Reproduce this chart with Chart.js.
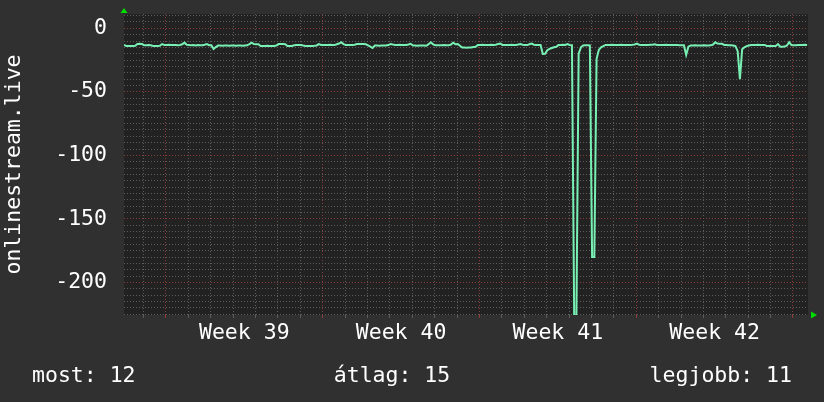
<!DOCTYPE html>
<html><head><meta charset="utf-8">
<script src="https://cdn.jsdelivr.net/npm/chart.js@4"></script>
<style>
html,body{margin:0;padding:0;background:#303030;}
#wrap{position:relative;width:824px;height:402px;overflow:hidden;}
.stat{position:absolute;top:362px;font-family:"DejaVu Sans Mono",monospace;font-size:21.5px;color:#fff;line-height:26px;white-space:pre;}
</style></head><body>
<div id="wrap"><canvas id="c" width="824" height="402"></canvas>
<div class="stat" id="s0" style="left:32px"></div>
<div class="stat" id="s1" style="left:0;width:784px;text-align:center"></div>
<div class="stat" id="s2" style="right:32px"></div>
</div>
<script>
// ---- data ----
const seriesName = 'onlinestream.live';
const sampleStepDays = 0.1;          // one sample every 0.1 day
const values = [
 -13.1,-13.9,-13.9,-14.0,-13.9,-13.8,-12.4,-12.2,-12.4,-13.3,
 -13.3,-13.2,-13.4,-13.9,-14.0,-13.9,-13.8,-12.4,-13.1,-13.1,
 -13.0,-13.2,-13.1,-13.1,-13.3,-13.1,-12.6,-11.3,-13.0,-13.1,
 -13.3,-13.1,-13.5,-13.2,-13.4,-13.3,-12.9,-12.4,-13.3,-13.4,
 -16.3,-14.8,-13.6,-13.6,-13.7,-13.5,-13.6,-13.8,-13.6,-13.5,
 -13.7,-13.6,-13.6,-13.8,-13.6,-13.4,-12.5,-11.3,-12.4,-12.5,
 -12.6,-13.9,-13.9,-14.0,-13.8,-13.9,-14.0,-13.9,-13.6,-12.4,
 -12.4,-12.3,-12.5,-13.9,-14.0,-13.9,-13.3,-13.1,-13.1,-13.2,
 -13.6,-13.9,-14.0,-13.9,-13.9,-13.8,-13.5,-12.4,-13.1,-13.1,
 -13.2,-13.1,-13.0,-13.1,-13.2,-12.6,-12.0,-11.0,-12.4,-13.1,
 -13.1,-13.2,-13.1,-13.0,-12.4,-12.4,-12.3,-12.4,-12.6,-13.5,
 -14.4,-15.5,-13.6,-13.6,-13.7,-13.6,-13.5,-13.6,-13.2,-12.4,
 -12.8,-13.1,-13.1,-13.0,-13.1,-13.2,-13.1,-12.8,-12.2,-13.6,
 -13.6,-13.7,-13.6,-13.5,-13.6,-13.7,-12.5,-11.0,-12.6,-13.3,
 -13.3,-13.4,-13.3,-13.2,-13.3,-13.4,-12.8,-11.3,-12.6,-12.4,
 -13.8,-15.2,-15.2,-15.3,-15.2,-15.1,-14.8,-14.5,-13.1,-13.1,
 -13.0,-13.1,-13.2,-13.1,-13.0,-13.1,-12.9,-12.4,-12.0,-13.1,
 -13.1,-13.2,-13.1,-13.0,-13.1,-13.1,-12.8,-12.4,-12.9,-13.1,
 -13.2,-12.6,-12.0,-12.9,-13.1,-13.2,-13.1,-20.2,-20.0,-17.2,
 -16.2,-15.5,-14.9,-14.5,-13.2,-13.1,-13.0,-13.1,-12.4,-13.1,
 -13.3,-226,-226,-20.0,-15.0,-13.5,-13.3,-13.3,-13.5,-180,
 -180,-24.0,-17.0,-15.0,-14.0,-13.1,-13.2,-13.1,-13.0,-13.1,
 -13.1,-13.2,-13.0,-13.1,-13.1,-13.2,-13.1,-13.0,-12.7,-12.0,
 -12.9,-13.1,-13.1,-13.2,-13.1,-13.0,-12.9,-12.6,-13.1,-13.1,
 -13.2,-13.1,-13.0,-13.1,-13.2,-13.1,-13.1,-13.2,-13.3,-13.3,
 -13.4,-21.0,-14.5,-13.5,-13.6,-13.4,-13.5,-13.6,-13.5,-13.4,
 -13.6,-13.5,-13.4,-12.8,-11.0,-12.0,-12.1,-12.2,-13.1,-13.1,
 -13.3,-13.3,-13.5,-14.0,-18.0,-40.0,-16.5,-15.0,-14.0,-13.5,
 -13.1,-13.2,-13.1,-13.0,-13.1,-13.2,-13.1,-13.9,-13.9,-14.0,
 -13.9,-13.9,-12.4,-14.5,-14.5,-14.4,-13.5,-11.0,-13.2,-13.3,
 -13.3,-13.1,-13.2,-13.1,-13.0,-13.1
];
const weekLabels = ['Week 39','Week 40','Week 41','Week 42'];
const firstWeekStartDay = 1.87;   // Monday of week 39 (days from graph start)
const rangeDays = 30.54;
const yMin = -225.6, yMax = 11.25;
const yGridStep = 5, yLabelStep = 50;
const statLabels = ['most','átlag','legjobb'];
const statValues = [12, 15, 11];

statLabels.forEach((l,i)=>{ document.getElementById('s'+i).textContent = l + ': ' + statValues[i]; });

// ---- styles ----
const FONT = '"DejaVu Sans Mono", monospace';
const FS = 21.5;
const GREY = '#5c5c5c';
const RED = '#8e3b3b';
const LINE = '#78f0b4';

const bgPlugin = {
  id: 'bg',
  beforeDraw(chart){
    const {ctx, chartArea:a} = chart;
    ctx.save();
    ctx.fillStyle = '#303030';
    ctx.fillRect(0,0,chart.width,chart.height);
    ctx.fillStyle = '#222222';
    ctx.fillRect(a.left, a.top, a.right-a.left, a.bottom-a.top);
    ctx.restore();
  },
  afterDraw(chart){
    const {ctx, chartArea:a} = chart;
    ctx.save();
    ctx.fillStyle = '#00e000';
    ctx.beginPath();
    ctx.moveTo(a.left-3.5, a.top-1); ctx.lineTo(a.left+3.5, a.top-1); ctx.lineTo(a.left, a.top-6);
    ctx.closePath(); ctx.fill();
    ctx.beginPath();
    ctx.moveTo(a.right+3, a.bottom-3.5); ctx.lineTo(a.right+3, a.bottom+3.5); ctx.lineTo(a.right+9, a.bottom);
    ctx.closePath(); ctx.fill();
    ctx.restore();
  }
};

new Chart(document.getElementById('c'), {
  type: 'line',
  data: {
    datasets: [{
      label: seriesName,
      data: values.map((v,i)=>({x: i*sampleStepDays, y: v})),
      borderColor: LINE,
      borderWidth: 2,
      pointRadius: 0,
      tension: 0,
      fill: false
    }]
  },
  options: {
    responsive: false,
    devicePixelRatio: 1,
    animation: false,
    events: [],
    layout: { padding: { left: 0, top: 14, right: 16, bottom: 0 } },
    plugins: { legend: { display: false }, tooltip: { enabled: false } },
    scales: {
      x: {
        type: 'linear',
        min: 0, max: rangeDays,
        afterBuildTicks(scale){
          const t = [];
          for (let k = 0; ; k++) {
            const d = firstWeekStartDay - 1 + k;
            if (d > rangeDays) break;
            t.push({value: d, kind: ((k - 1) % 7 === 0) ? 'week' : 'day'});
          }
          weekLabels.forEach((l,k)=>t.push({value: firstWeekStartDay + 7*k + 3.5, kind: 'label', text: l}));
          t.sort((a,b)=>a.value-b.value);
          scale.ticks = t;
        },
        afterFit(scale){ scale.height = 87; scale.paddingLeft = 0; scale.paddingRight = 0; },
        ticks: {
          autoSkip: false, maxRotation: 0, minRotation: 0,
          color: '#ffffff', font: { family: FONT, size: FS }, padding: 3,
          callback(v, i, ticks){ return ticks[i].kind === 'label' ? ticks[i].text : ''; }
        },
        grid: {
          drawTicks: true, tickLength: 3,
          color(ctx){ const k = ctx.tick && ctx.tick.kind; return k === 'label' ? 'rgba(0,0,0,0)' : (k === 'week' ? RED : GREY); },
          lineWidth: 1
        },
        border: { display: false, dash: [1,2] }
      },
      y: {
        type: 'linear',
        min: yMin, max: yMax,
        afterBuildTicks(scale){
          const t = [];
          for (let v = Math.ceil(yMin / yGridStep) * yGridStep; v <= yMax; v += yGridStep) t.push({value: v});
          scale.ticks = t;
        },
        afterFit(scale){ scale.width = 124; scale.paddingTop = 0; scale.paddingBottom = 0; },
        ticks: {
          autoSkip: false, color: '#ffffff', font: { family: FONT, size: FS }, padding: 17,
          callback(v){ return (v % yLabelStep === 0) ? String(v) : ''; }
        },
        grid: {
          drawTicks: false,
          color(ctx){ const v = ctx.tick ? ctx.tick.value : 1; return (v % yLabelStep === 0) ? RED : GREY; },
          lineWidth: 1
        },
        border: { display: false, dash: [1,2] },
        title: { display: true, text: seriesName, color: '#ffffff', font: { family: FONT, size: FS }, padding: { top: 2, bottom: 0 } }
      }
    }
  },
  plugins: [bgPlugin]
});
</script>
</body></html>
